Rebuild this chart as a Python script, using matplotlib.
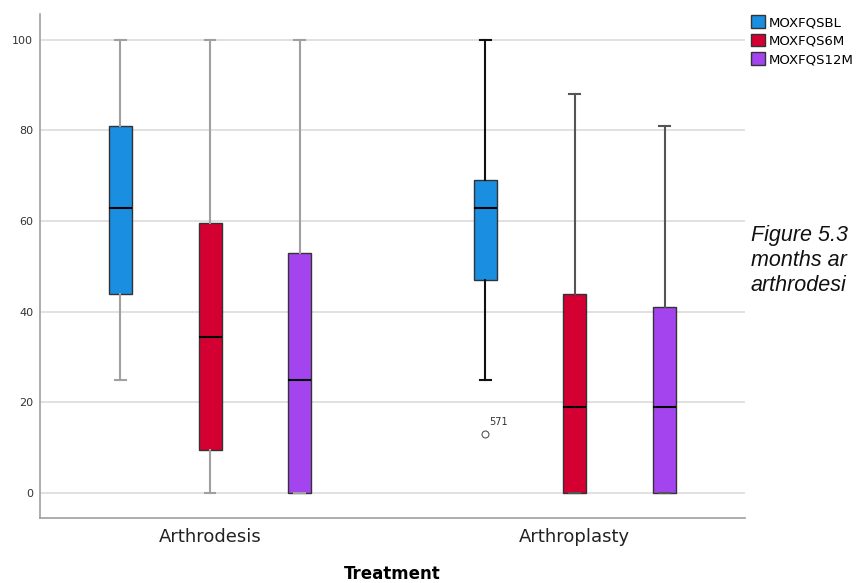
import matplotlib.pyplot as plt
from matplotlib.patches import Patch

# MOXFQ scores by treatment and time point
groups = ['Arthrodesis', 'Arthroplasty']
series = ['MOXFQSBL', 'MOXFQS6M', 'MOXFQS12M']
colors = ['#1a8ee0', '#d50032', '#a444ee']

whislo = [[25, 0, 0], [25, 0, 0]]
q1 = [[44, 9.5, 0], [47, 0, 0]]
med = [[63, 34.4, 25], [63, 19, 19]]
q3 = [[81, 59.6, 53], [69, 44, 41]]
whishi = [[100, 100, 100], [100, 88, 81]]
outliers = [[[], [], []], [[13], [], []]]
outlier_ids = [[[], [], []], [['571'], [], []]]
whisker_colors = [['#a0a0a0', '#a0a0a0', '#a0a0a0'], ['#111111', '#555555', '#555555']]

offsets = [-0.246, 0, 0.246]

fig = plt.figure(figsize=(8.61, 5.83), dpi=100)
ax = fig.add_axes([0.0465, 0.1115, 0.8185, 0.8645])

for yv in [0, 20, 40, 60, 80, 100]:
    ax.axhline(yv, color='#dcdcdc', lw=1.2, zorder=0)

for g in range(len(groups)):
    for s in range(len(series)):
        stats = [dict(whislo=whislo[g][s], q1=q1[g][s], med=med[g][s],
                      q3=q3[g][s], whishi=whishi[g][s], fliers=outliers[g][s])]
        pos = g + 1 + offsets[s]
        wc = whisker_colors[g][s]
        ax.bxp(stats, positions=[pos], widths=0.063, capwidths=0.03,
               patch_artist=True, showfliers=True,
               boxprops=dict(facecolor=colors[s], edgecolor='#333333', lw=1),
               medianprops=dict(color='black', lw=1.5),
               whiskerprops=dict(color=wc, lw=1.5),
               capprops=dict(color=wc, lw=1.5),
               flierprops=dict(marker='o', markersize=5, markerfacecolor='none',
                               markeredgecolor='#555555', markeredgewidth=0.8))
        for y, label in zip(outliers[g][s], outlier_ids[g][s]):
            ax.text(pos + 0.01, y + 1.5, label, fontsize=7, color='#333333',
                    ha='left', va='bottom')

ax.set_xlim(0.534, 2.466)
ax.set_ylim(-5.5, 105.7)
ax.set_xticks([1, 2])
ax.set_xticklabels(groups, fontsize=13, color='#222222')
ax.set_yticks([0, 20, 40, 60, 80, 100])
ax.set_yticklabels(['0', '20', '40', '60', '80', '100'], fontsize=8, color='#333333')
ax.tick_params(length=0, pad=5)
ax.tick_params(axis='x', pad=7)
for side in ['top', 'right']:
    ax.spines[side].set_visible(False)
for side in ['left', 'bottom']:
    ax.spines[side].set_color('#a0a0a0')
    ax.spines[side].set_linewidth(1.2)
ax.set_xlabel('Treatment', fontsize=12, fontweight='bold', labelpad=14)

handles = [Patch(facecolor=c, edgecolor='#333333', label=n) for c, n in zip(colors, series)]
fig.legend(handles=handles, loc='upper left', bbox_to_anchor=(0.864, 0.985),
           frameon=False, fontsize=9.5, handlelength=1.1, handleheight=1.1,
           handletextpad=0.3, labelspacing=0.35, borderpad=0)

# caption beside the plot, cut short by the figure edge
fig.text(0.872, 0.614, 'Figure 5.3\nmonths ar\narthrodesi',
         fontsize=15.5, style='italic', family='Liberation Sans', va='top',
         linespacing=1.25, color='#111111')

fig.savefig('out.png', dpi=100)
